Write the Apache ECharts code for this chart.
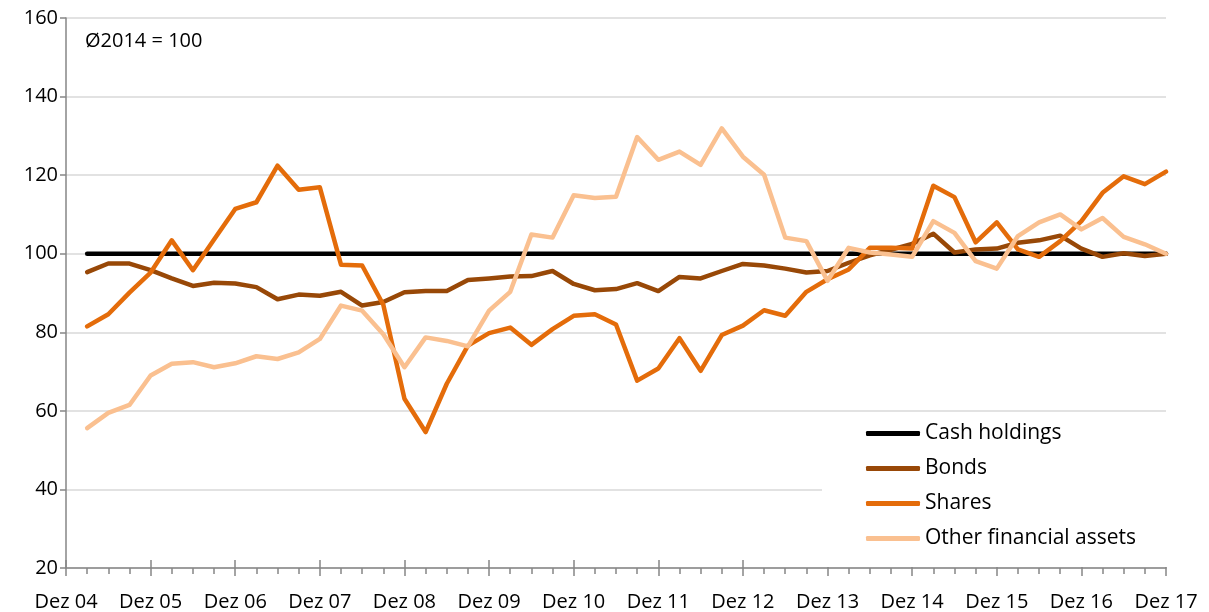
<!DOCTYPE html>
<html>
<head>
<meta charset="utf-8">
<script src="https://cdn.jsdelivr.net/npm/echarts@6/dist/echarts.min.js"></script>
<style>
html,body{margin:0;padding:0;background:#fff;}
#chart{width:1209px;height:612px;}
</style>
</head>
<body>
<div id="chart"></div>
<script>
// Quarterly categories from Dez 04 to Dez 17
const years = ['04','05','06','07','08','09','10','11','12','13','14','15','16','17'];
const quarterNames = ['Mär', 'Jun', 'Sep', 'Dez'];
const categories = ['Dez 04'];
for (let i = 1; i < years.length; i++) {
  for (const q of quarterNames) categories.push(q + ' ' + years[i]);
}

// Series values (first category Dez 04 has no value)
const cashHoldings = [null,
  100,100,100,100, 100,100,100,100, 100,100,100,100, 100,100,100,100,
  100,100,100,100, 100,100,100,100, 100,100,100,100, 100,100,100,100,
  100,100,100,100, 100,100,100,100, 100,100,100,100, 100,100,100,100,
  100,100,100,100];
const bonds = [null,
  95.3, 97.5, 97.5, 95.8,
  93.7, 91.8, 92.6, 92.4,
  91.5, 88.4, 89.6, 89.3,
  90.3, 86.8, 87.7, 90.2,
  90.5, 90.5, 93.3, 93.7,
  94.2, 94.3, 95.6, 92.3,
  90.7, 91.0, 92.5, 90.5,
  94.1, 93.7, 95.6, 97.4,
  97.0, 96.2, 95.2, 95.6,
  97.7, 99.6, 101.0, 102.5,
  105.1, 100.3, 101.1, 101.3,
  102.8, 103.4, 104.6, 101.3,
  99.2, 100.1, 99.4, 100.0];
const shares = [null,
  81.5, 84.6, 90.1, 95.2,
  103.4, 95.8, 103.6, 111.4,
  113.1, 122.4, 116.3, 116.9,
  97.2, 97.0, 87.0, 63.1,
  54.6, 66.9, 76.6, 79.8,
  81.2, 76.8, 80.8, 84.2,
  84.6, 82.0, 67.7, 70.8,
  78.5, 70.2, 79.3, 81.7,
  85.6, 84.2, 90.3, 93.5,
  96.0, 101.5, 101.5, 101.3,
  117.3, 114.4, 102.9, 108.0,
  101.1, 99.2, 103.2, 108.3,
  115.5, 119.7, 117.7, 120.9];
const otherAssets = [null,
  55.6, 59.5, 61.5, 69.0,
  72.0, 72.4, 71.1, 72.1,
  73.9, 73.2, 74.9, 78.3,
  86.8, 85.5, 79.5, 71.1,
  78.7, 77.8, 76.4, 85.5,
  90.3, 104.9, 104.1, 114.9,
  114.2, 114.5, 129.7, 123.9,
  126.0, 122.6, 131.9, 124.7,
  120.1, 104.1, 103.2, 93.1,
  101.5, 100.3, 99.8, 99.2,
  108.3, 105.3, 98.1, 96.2,
  104.5, 108.0, 110.0, 106.2,
  109.1, 104.3, 102.4, 100.0];

const seriesNames = ['Cash holdings', 'Bonds', 'Shares', 'Other financial assets'];
const seriesColors = ['#000000', '#984807', '#E46C0A', '#FAC090'];
const seriesData = [cashHoldings, bonds, shares, otherAssets];
const annotation = 'Ø2014 = 100';

const FONT = '"Open Sans"';
const axisGrey = '#868686';

const chart = echarts.init(document.getElementById('chart'), null, {renderer: 'canvas'});

const baseX = {
  type: 'category',
  data: categories,
  boundaryGap: false,
  position: 'bottom',
  splitLine: {show: false}
};

const option = {
  animation: false,
  backgroundColor: '#ffffff',
  textStyle: {fontFamily: FONT},
  grid: {left: 66, right: 43, top: 18, bottom: 43, containLabel: false},
  xAxis: [
    Object.assign({}, baseX, {
      axisLine: {show: true, lineStyle: {color: axisGrey, width: 1.5}},
      axisTick: {show: true, interval: 0, length: 6, inside: false, lineStyle: {color: axisGrey, width: 1.5}},
      axisLabel: {show: true, interval: 3, margin: 24, color: '#000', fontSize: 20, fontFamily: FONT}
    }),
    Object.assign({}, baseX, {
      axisLine: {show: false},
      axisTick: {show: true, interval: 3, length: 8, inside: false, lineStyle: {color: axisGrey, width: 1.5}},
      axisLabel: {show: false}
    }),
    Object.assign({}, baseX, {
      axisLine: {show: false},
      axisTick: {show: true, interval: 3, length: 8, inside: true, lineStyle: {color: axisGrey, width: 1.5}},
      axisLabel: {show: false}
    })
  ],
  yAxis: {
    type: 'value',
    min: 20, max: 160, interval: 20,
    axisLine: {show: true, lineStyle: {color: axisGrey, width: 1.5}},
    axisTick: {show: true, length: 6, lineStyle: {color: axisGrey, width: 1.5}},
    axisLabel: {color: '#000', fontSize: 20, fontFamily: FONT, margin: 8},
    splitLine: {show: true, lineStyle: {color: '#D9D9D9', width: 1.5}}
  },
  legend: {
    orient: 'vertical',
    left: 822, top: 414,
    padding: [9, 50, 18, 44],
    backgroundColor: '#ffffff',
    itemWidth: 54, itemHeight: 5,
    itemGap: 14,
    icon: 'roundRect',
    textStyle: {color: '#000', fontSize: 21, fontFamily: FONT},
    data: seriesNames
  },
  graphic: [{
    type: 'text',
    left: 85, top: 31,
    style: {text: annotation, fontSize: 20, fontFamily: FONT, fill: '#000'}
  }],
  series: seriesNames.map((name, i) => ({
    name: name,
    type: 'line',
    xAxisIndex: 0,
    data: seriesData[i],
    symbol: 'none',
    showSymbol: false,
    connectNulls: false,
    itemStyle: {color: seriesColors[i]},
    lineStyle: {color: seriesColors[i], width: 4.5, cap: 'round', join: 'round'},
    z: 2 + i
  }))
};

chart.setOption(option);
</script>
</body>
</html>
